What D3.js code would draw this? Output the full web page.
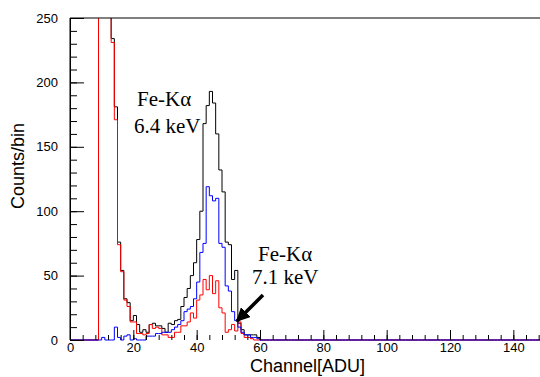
<html>
<head>
  <meta charset="utf8">
  <title>Fe-K spectrum</title>
  <style>
  * { margin: 0; padding: 0; }
  body { background: #fff; }
  </style>
</head>
<body>
  <script src="https://cdn.jsdelivr.net/npm/d3@7"></script>
  <script>
  //Canvas size
  var w = 540;
  var h = 377;

  //Counts per bin (bin width 1 ADU, starting at channel 0); bins past the list are empty
  //bins 9-12 run off the top of the frame
  var totalCounts = [0, 0, 0, 0, 0, 0, 0, 0, 0, 300, 300, 300, 300, 234, 181, 76, 54, 32, 29, 15,
    19, 12, 6, 8, 6, 12, 13, 11, 11, 9, 6, 13, 12, 15, 16, 26, 33, 40, 50, 60,
    78, 100, 168, 182, 193, 184, 160, 132, 115, 76, 74, 47, 54, 13, 8, 4, 4, 4, 4, 2];
  var blueCounts = [0, 0, 0, 0, 0, 0, 0, 0, 0, 0, 2, 0, 0, 0, 10, 2, 0, 3, 4, 0,
    1, 0, 0, 0, 3, 3, 3, 5, 5, 6, 6, 6, 8, 10, 12, 15, 22, 24, 26, 32,
    45, 68, 75, 119, 112, 108, 110, 75, 72, 42, 38, 22, 15, 10, 6, 4, 4, 2, 2, 1];
  var redCounts = [0, 0, 0, 0, 0, 0, 0, 0, 0, 300, 300, 300, 300, 231, 171, 74, 53, 31, 26, 14,
    14, 5, 5, 4, 5, 12, 9, 10, 9, 4, 4, 2, 2, 6, 6, 11, 11, 14, 21, 17,
    31, 35, 47, 39, 50, 36, 46, 25, 21, 6, 8, 12, 7, 14, 5, 2, 2, 1, 0, 0];
  var nBins = 150;

  //Tick values
  var xMajor = [0, 20, 40, 60, 80, 100, 120, 140];
  var yMajor = [0, 50, 100, 150, 200, 250];

  //Scales
  var xScale = d3.scaleLinear().domain([0, 150]).range([70, 545]);
  var yScale = d3.scaleLinear().domain([0, 250]).range([340, 18]);

  var svg = d3.select("body")
    .append("svg")
    .attr("width", w)
    .attr("height", h)
    .style("font-family", "'Liberation Sans', Helvetica, Arial, sans-serif");

  svg.append("clipPath")
    .attr("id", "plotclip")
    .append("rect")
    .attr("x", xScale(0))
    .attr("y", yScale(250))
    .attr("width", xScale(150) - xScale(0))
    .attr("height", yScale(0) - yScale(250) + 1);

  //Step line for one histogram
  function steps(counts) {
    var pts = [];
    for (var i = 0; i < nBins; i++) {
      pts.push([i, i < counts.length ? counts[i] : 0]);
    }
    pts.push([nBins, 0]);
    return pts;
  }
  var line = d3.line()
    .x(function(d) { return xScale(d[0]); })
    .y(function(d) { return yScale(d[1]); })
    .curve(d3.curveStepAfter);

  var plot = svg.append("g").attr("clip-path", "url(#plotclip)");
  [[totalCounts, "#000000"], [redCounts, "#ff0000"], [blueCounts, "#0000ff"]].forEach(function(s) {
    plot.append("path")
      .attr("d", line(steps(s[0])))
      .attr("fill", "none")
      .attr("stroke", s[1])
      .attr("stroke-width", 1);
  });

  //Frame top and right
  svg.append("path")
    .attr("d", "M" + xScale(0) + "," + yScale(250) + "H" + xScale(150) + "V" + yScale(0))
    .attr("fill", "none")
    .attr("stroke", "#000");

  //X axis: major and minor ticks pointing up into the frame
  svg.append("g")
    .attr("transform", "translate(0," + yScale(0) + ")")
    .call(d3.axisBottom(xScale).tickValues(d3.range(0, 150, 4)).tickSize(-5).tickSizeOuter(0).tickFormat(""))
    .call(function(g) { g.select(".domain").remove(); });
  var xAxis = svg.append("g")
    .attr("transform", "translate(0," + yScale(0) + ")")
    .call(d3.axisBottom(xScale).tickValues(xMajor).tickSize(-10).tickSizeOuter(0).tickPadding(3));
  xAxis.select(".domain").remove();
  xAxis.selectAll("text").style("font-size", "13px").style("font-family", null);

  //Y axis
  svg.append("g")
    .attr("transform", "translate(" + xScale(0) + ",0)")
    .call(d3.axisLeft(yScale).tickValues(d3.range(0, 251, 10)).tickSize(-7).tickSizeOuter(0).tickFormat(""))
    .call(function(g) { g.select(".domain").remove(); });
  var yAxis = svg.append("g")
    .attr("transform", "translate(" + xScale(0) + ",0)")
    .call(d3.axisLeft(yScale).tickValues(yMajor).tickSize(-14).tickSizeOuter(0).tickPadding(12));
  yAxis.selectAll("text").style("font-size", "13px").style("font-family", null);

  //Axis lines drawn last so the histograms sit under them
  svg.append("line")
    .attr("x1", xScale(0)).attr("x2", xScale(0))
    .attr("y1", yScale(0)).attr("y2", yScale(250))
    .attr("stroke", "#000");

  //Axis titles
  svg.append("text")
    .attr("x", (xScale(0) + xScale(150)) / 2)
    .attr("y", 372)
    .attr("text-anchor", "middle")
    .style("font-size", "18px")
    .text("Channel[ADU]");
  svg.append("text")
    .attr("transform", "translate(24,166) rotate(-90)")
    .attr("text-anchor", "middle")
    .style("font-size", "18px")
    .text("Counts/bin");

  //Peak labels
  var serif = "'Liberation Serif', 'Times New Roman', serif";
  var labels = [
    ["Fe-K\u03b1", 137, 106],
    ["6.4 keV", 134, 133],
    ["Fe-K\u03b1", 258, 261],
    ["7.1 keV", 252, 284]
  ];
  labels.forEach(function(l) {
    svg.append("text")
      .attr("x", l[1])
      .attr("y", l[2])
      .style("font-family", serif)
      .style("font-size", "21px")
      .text(l[0]);
  });

  //Arrow to the 7.1 keV bump
  svg.append("defs").append("marker")
    .attr("id", "head")
    .attr("viewBox", "0 0 10 10")
    .attr("refX", 9)
    .attr("refY", 5)
    .attr("markerWidth", 4)
    .attr("markerHeight", 4)
    .attr("orient", "auto")
    .append("path")
    .attr("d", "M0,0L10,5L0,10z")
    .attr("fill", "#000");
  svg.append("line")
    .attr("x1", 263).attr("y1", 295)
    .attr("x2", 237).attr("y2", 321)
    .attr("stroke", "#000")
    .attr("stroke-width", 3.5)
    .attr("marker-end", "url(#head)");
  </script>
</body>
</html>
